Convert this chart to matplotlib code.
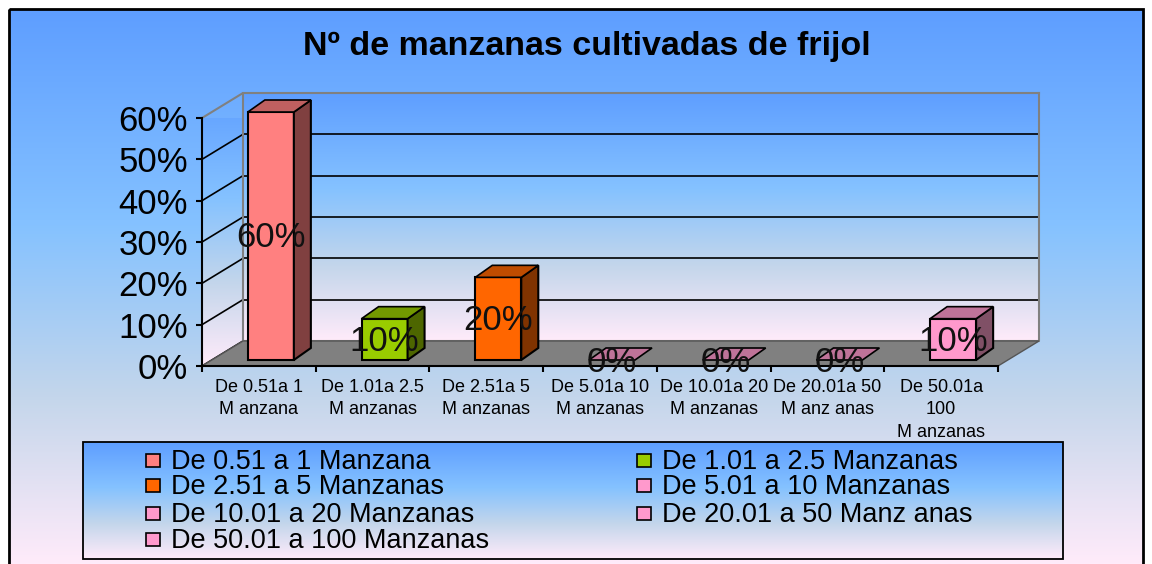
import numpy as np
import matplotlib.pyplot as plt
from matplotlib.colors import to_rgb
from matplotlib.patches import Rectangle, Polygon

plt.rcParams['font.family'] = ['Liberation Sans', 'DejaVu Sans']

#chart data
title = 'Nº de manzanas cultivadas de frijol'
values = [60, 10, 20, 0, 0, 0, 10]
value_labels = ['60%', '10%', '20%', '0%', '0%', '0%', '10%']
categories = ['De 0.51a 1\nM anzana', 'De 1.01a 2.5\nM anzanas', 'De 2.51a 5\nM anzanas',
              'De 5.01a 10\nM anzanas', 'De 10.01a 20\nM anzanas', 'De 20.01a 50\nM anz anas',
              'De 50.01a\n100\nM anzanas']
legend_labels = ['De 0.51 a 1 Manzana', 'De 1.01 a 2.5 Manzanas', 'De 2.51 a 5 Manzanas',
                 'De 5.01 a 10 Manzanas', 'De 10.01 a 20 Manzanas', 'De 20.01 a 50 Manz anas',
                 'De 50.01 a 100 Manzanas']
y_ticks = [0, 10, 20, 30, 40, 50, 60]
y_tick_labels = ['0%', '10%', '20%', '30%', '40%', '50%', '60%']

#bar colours: front, top, side
front_colors = ['#FF8080', '#99CC00', '#FF6600', '#FF99CC', '#FF99CC', '#FF99CC', '#FF99CC']
top_colors = ['#BF6060', '#739900', '#BF4C00', '#BF7399', '#BF7399', '#BF7399', '#BF7399']
side_colors = ['#804040', '#4D6600', '#803300', '#805066', '#805066', '#805066', '#805066']

W, H = 1152, 564


def gradient(n=256):
    stops = [0, 0.39, 0.70, 1]
    cols = np.array([to_rgb(c) for c in ['#5E9EFF', '#85C2FF', '#C4D6EB', '#FFEBFA']])
    t = np.linspace(0, 1, n)
    return np.stack([np.interp(t, stops, cols[:, i]) for i in range(3)], axis=1)[:, None, :]


fig = plt.figure(figsize=(W / 100, H / 100), dpi=100, facecolor='white')

#background in pixel coordinates
bg = fig.add_axes([0, 0, 1, 1])
bg.set_xlim(0, W)
bg.set_ylim(H, 0)
bg.axis('off')
bg.imshow(gradient(), extent=[9, 1143, H, 9], aspect='auto', zorder=0)
bg.add_patch(Rectangle((9, 9), 1134, 570, fill=False, ec='black', lw=2, zorder=1, clip_on=True))
bg.set_xlim(0, W)
bg.set_ylim(H, 0)

bg.text(587, 46, title, fontsize=24.5, fontweight='bold', ha='center', va='center', color='black')

#legend box
bg.imshow(gradient(), extent=[83, 1063, 559, 442], aspect='auto', zorder=1)
bg.add_patch(Rectangle((83, 442), 980, 117, fill=False, ec='black', lw=1.3, zorder=2))
bg.set_xlim(0, W)
bg.set_ylim(H, 0)
legend_rows = [461, 486, 514, 540]
for i, lab in enumerate(legend_labels):
    col = i % 2
    row = legend_rows[i // 2]
    sx = 146 if col == 0 else 637
    bg.add_patch(Rectangle((sx, row - 7), 14, 13, fc=front_colors[i], ec='black', lw=1.2, zorder=3))
    bg.text(sx + 25, row + 1, lab, fontsize=19.5, ha='left', va='center', color='black', zorder=3)

#chart axes: front plane of the 3d box
left, right, top, bottom = 202, 998, 118, 366
ax = fig.add_axes([left / W, 1 - bottom / H, (right - left) / W, (bottom - top) / H])
ax.patch.set_alpha(0)
ax.set_xlim(0, len(values))
ax.set_ylim(0, 60)

px_x = len(values) / (right - left)
px_y = 60 / (bottom - top)
box_dx, box_dy = 41 * px_x, 25 * px_y
n = len(values)

#walls and floor
back = ax.imshow(gradient(), extent=[box_dx, n + box_dx, box_dy, 60 + box_dy], aspect='auto',
                 zorder=0, clip_on=False)
side_wall = ax.imshow(gradient(), extent=[0, box_dx, 0, 60 + box_dy], aspect='auto', zorder=0)
side_poly = Polygon([(0, 0), (box_dx, box_dy), (box_dx, 60 + box_dy), (0, 60)],
                    closed=True, transform=ax.transData, fill=False, ec='none')
ax.add_patch(side_poly)
side_poly.set_clip_on(False)
side_wall.set_clip_path(side_poly)
ax.set_xlim(0, n)
ax.set_ylim(0, 60)

for v in y_ticks[1:-1]:
    ax.plot([box_dx, n + box_dx], [v + box_dy, v + box_dy], color='black', lw=1.2, zorder=1, clip_on=False)
for v in y_ticks[:-1]:
    ax.plot([0, box_dx], [v, v + box_dy], color='black', lw=1.2, zorder=1, clip_on=False)
ax.plot([0, box_dx, box_dx, n + box_dx, n + box_dx], [60, 60 + box_dy, box_dy, box_dy, 60 + box_dy],
        color='#808080', lw=1.5, zorder=1, clip_on=False)
ax.plot([box_dx, n + box_dx], [60 + box_dy, 60 + box_dy], color='#808080', lw=1.5, zorder=1, clip_on=False)
ax.add_patch(Polygon([(0, 0), (box_dx, box_dy), (n + box_dx, box_dy), (n, 0)], closed=True,
                     fc='#808080', ec='#555555', lw=1, zorder=2, clip_on=False))

#bars
bar_w = 46 * px_x
bar_x0 = 12 * px_x
bar_y0 = 6 * px_y
bar_dx, bar_dy = 17 * px_x, 12 * px_y
for i, v in enumerate(values):
    x0 = i + 0.5 + bar_x0 - bar_w / 2
    x1 = x0 + bar_w
    y0 = bar_y0
    y1 = y0 + v
    if v > 0:
        ax.add_patch(Rectangle((x0, y0), bar_w, v, fc=front_colors[i], ec='black', lw=1.5, zorder=3, clip_on=False))
        ax.add_patch(Polygon([(x1, y0), (x1 + bar_dx, y0 + bar_dy), (x1 + bar_dx, y1 + bar_dy), (x1, y1)],
                             closed=True, fc=side_colors[i], ec='black', lw=1.5, zorder=3, clip_on=False))
    ax.add_patch(Polygon([(x0, y1), (x0 + bar_dx, y1 + bar_dy), (x1 + bar_dx, y1 + bar_dy), (x1, y1)],
                         closed=True, fc=top_colors[i], ec='black', lw=1.2, zorder=3, clip_on=False))
    ax.text(i + 0.5 + bar_x0, y0 + v / 2 - 2 * px_y, value_labels[i], fontsize=25, ha='center', va='center',
            color='#111111', zorder=5, clip_on=False)

#axes
for s in ['top', 'right']:
    ax.spines[s].set_visible(False)
ax.spines['left'].set_linewidth(1.5)
ax.spines['bottom'].set_linewidth(1.5)
ax.spines['left'].set_zorder(4)
ax.spines['bottom'].set_zorder(4)
ax.set_yticks(y_ticks)
ax.set_yticklabels(y_tick_labels, fontsize=25)
ax.tick_params(axis='y', length=4.5, width=1.5, pad=5.5)
ax.set_xticks(range(n + 1))
ax.set_xticklabels([])
ax.tick_params(axis='x', length=4, width=1.5)
ax.set_xticks(np.arange(n) + 0.5, minor=True)
ax.set_xticklabels(categories, minor=True, fontsize=13, linespacing=1.4)
ax.tick_params(axis='x', which='minor', length=0, pad=9.5)

plt.savefig('out.png', dpi=100)
